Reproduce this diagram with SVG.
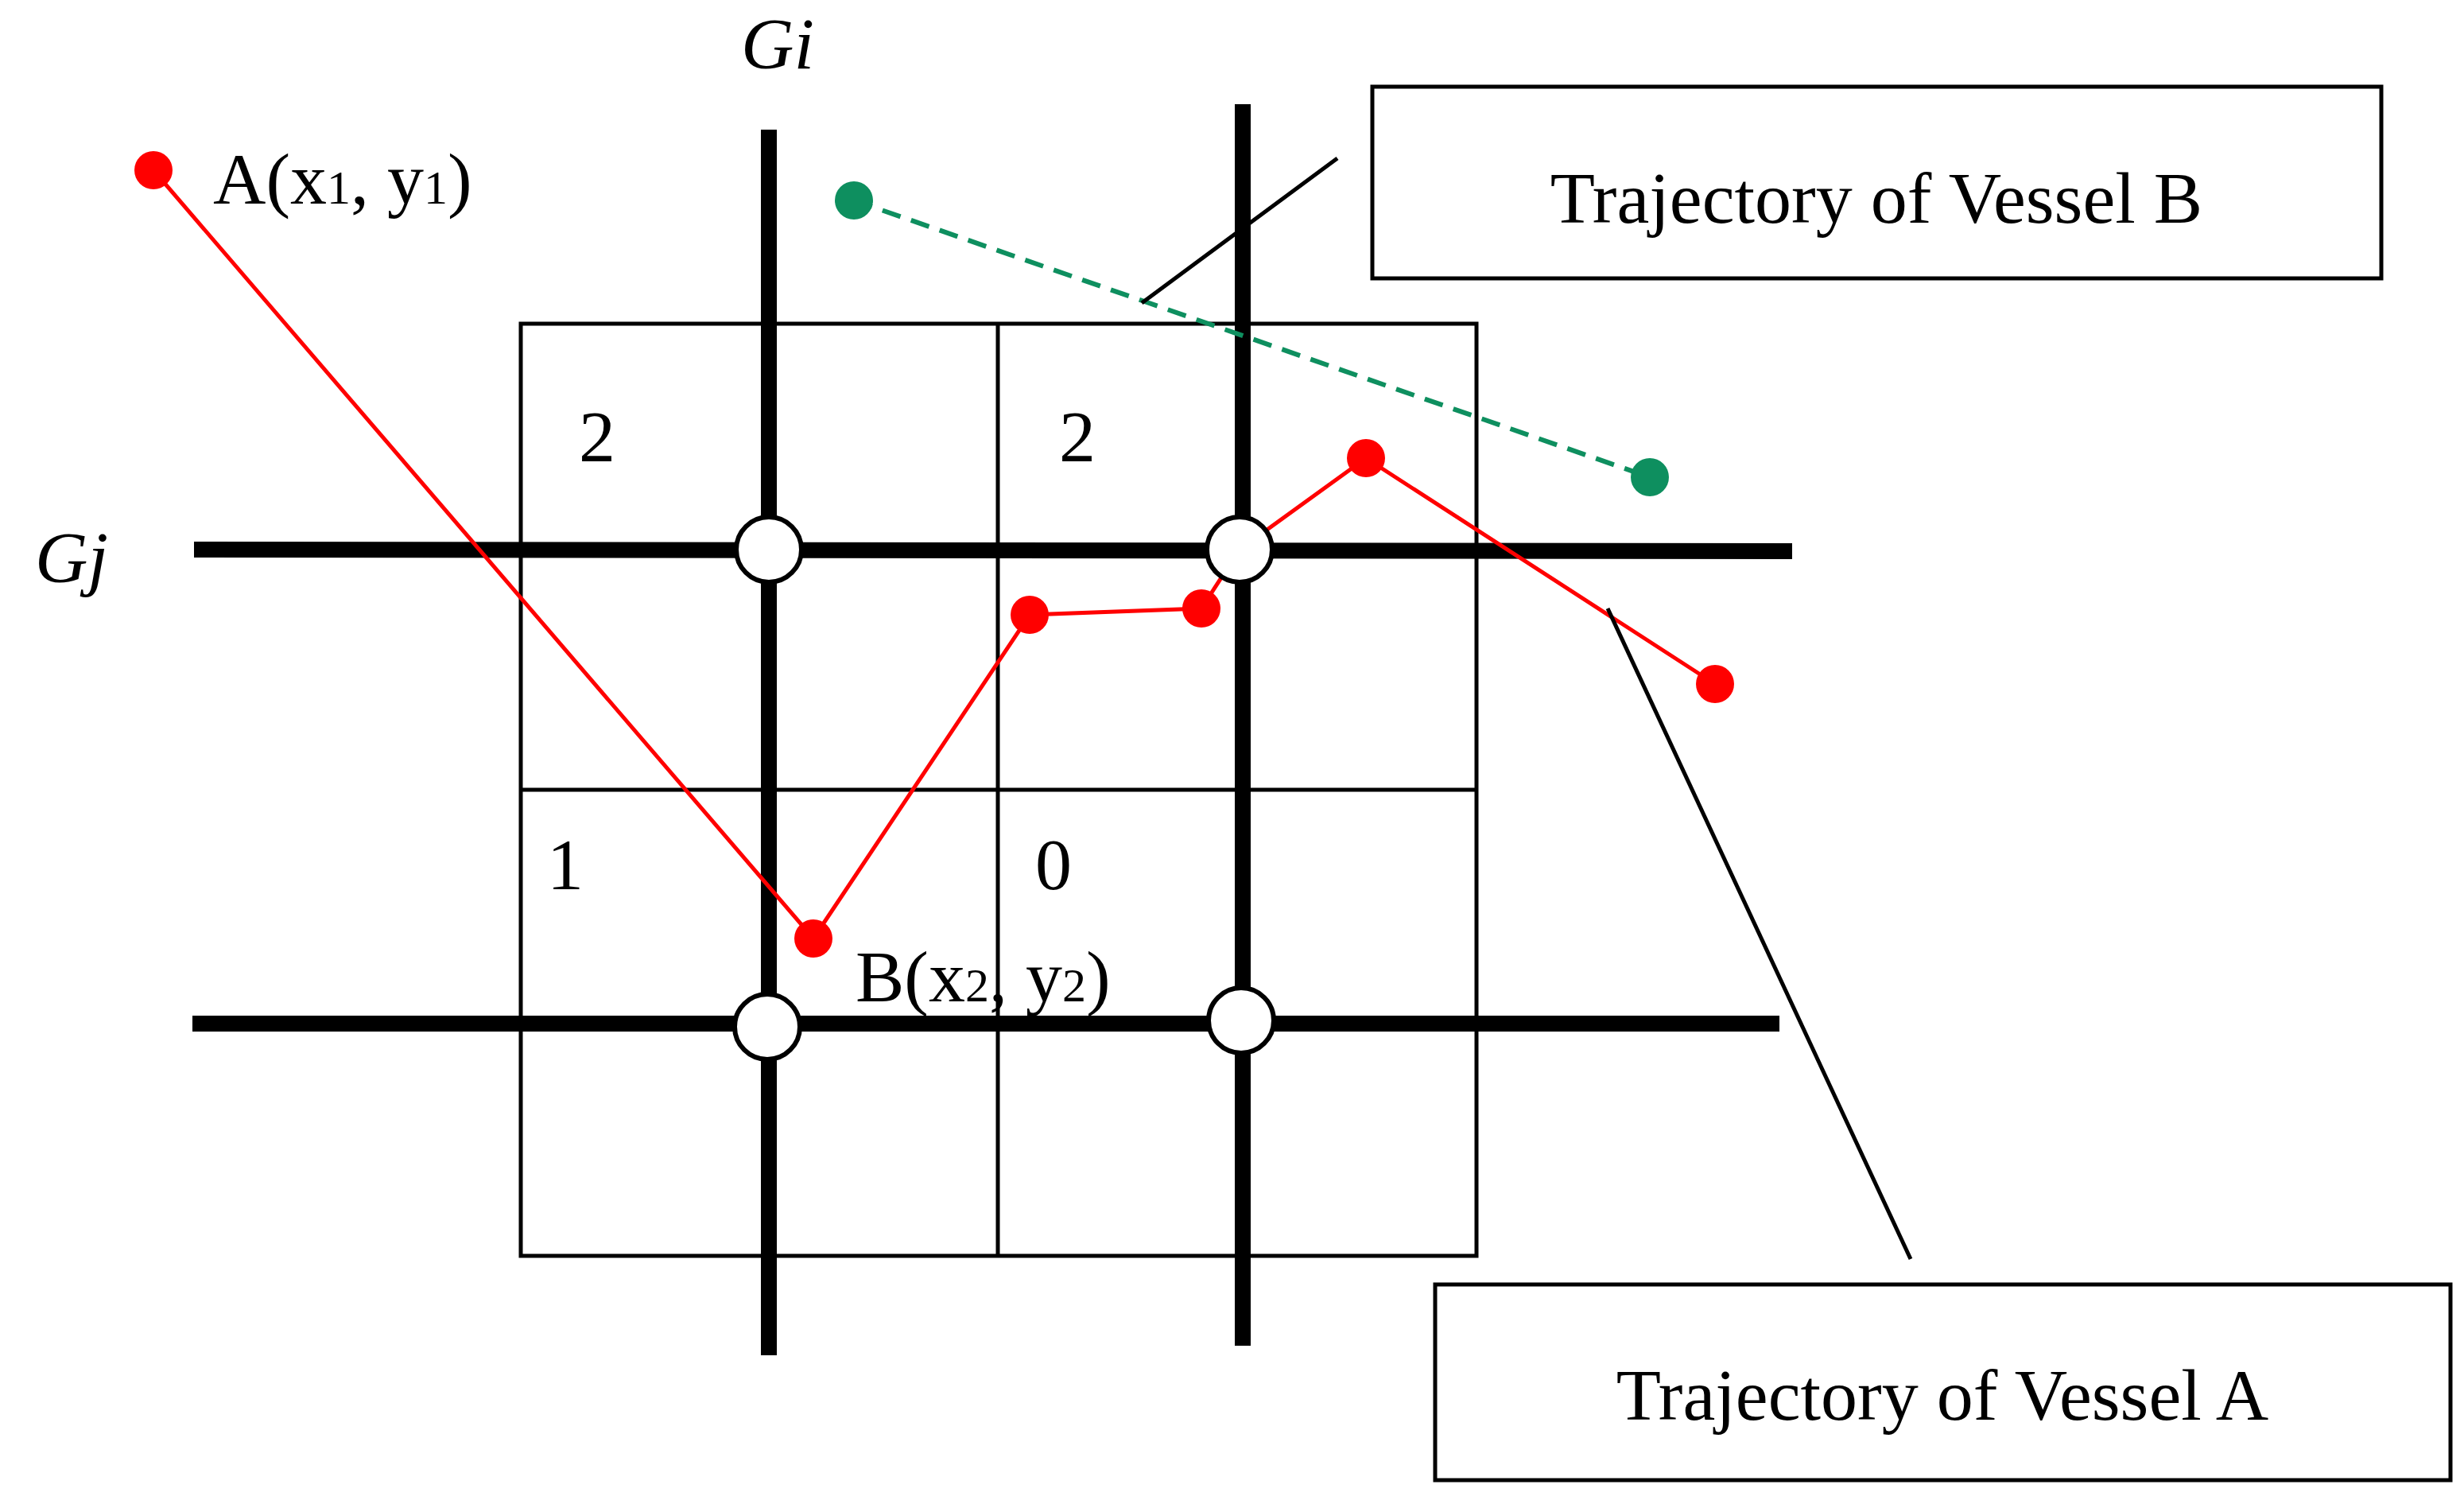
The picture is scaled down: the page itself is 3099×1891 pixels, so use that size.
<svg xmlns="http://www.w3.org/2000/svg" width="3099" height="1891" viewBox="0 0 3099 1891">
<style>
.t{font-family:"Liberation Serif",serif;font-size:92px;fill:#000}
.thin{stroke:#000;stroke-width:5;fill:none}
.thick{stroke:#000;stroke-width:20;fill:none}
.red{stroke:#f00;stroke-width:5;fill:none}
.rd{fill:#f00}
.node{fill:#fff;stroke:#000;stroke-width:6}
</style>
<rect width="3099" height="1891" fill="#fff"/>
<g id="grid">
<rect x="655" y="407" width="1202" height="1172" class="thin"/>
<line x1="1255" y1="407" x2="1255" y2="1579" class="thin"/>
<line x1="655" y1="993" x2="1857" y2="993" class="thin"/>
<text class="t" x="728" y="580">2</text>
<text class="t" x="1332" y="580">2</text>
<text class="t" x="688" y="1118">1</text>
<text class="t" x="1302" y="1118">0</text>
</g>
<g id="connectors">
<line x1="967" y1="163" x2="967" y2="1704" class="thick"/>
<line x1="1563" y1="131" x2="1563" y2="1692" class="thick"/>
<line x1="244" y1="691" x2="2254" y2="693" class="thick"/>
<line x1="242" y1="1287" x2="2238" y2="1287" class="thick"/>
<polyline points="193,214 1023,1180 1295,773 1511,765 1559,691 1718,576 2157,860" class="red"/>
<line x1="1074" y1="252" x2="2075" y2="600" stroke="#0e8f5f" stroke-width="6" stroke-dasharray="24,14"/>
<line x1="1682" y1="199" x2="1436" y2="381" class="thin"/>
<line x1="2022" y1="765" x2="2403" y2="1583" class="thin"/>
</g>
<g id="points">
<circle cx="193" cy="214" r="24" class="rd"/>
<circle cx="1023" cy="1180" r="24" class="rd"/>
<circle cx="1295" cy="773" r="24" class="rd"/>
<circle cx="1511" cy="765" r="24" class="rd"/>
<circle cx="1718" cy="576" r="24" class="rd"/>
<circle cx="2157" cy="860" r="24" class="rd"/>
<circle cx="1074" cy="252" r="24" fill="#0e8f5f"/>
<circle cx="2075" cy="600" r="24" fill="#0e8f5f"/>
</g>
<g id="nodes">
<circle cx="967" cy="691" r="41" class="node"/>
<circle cx="1559" cy="691" r="41" class="node"/>
<circle cx="965" cy="1291" r="41" class="node"/>
<circle cx="1561" cy="1283" r="41" class="node"/>
</g>
<g id="labels">
<text class="t" x="932" y="86" font-style="italic">Gi</text>
<text class="t" x="44" y="732" font-style="italic">Gj</text>
<text class="t" x="268" y="256">A(x<tspan font-size="60">1</tspan>, y<tspan font-size="60">1</tspan>)</text>
<text class="t" x="1076" y="1259">B(x<tspan font-size="60">2</tspan>, y<tspan font-size="60">2</tspan>)</text>
</g>
<g id="boxB">
<rect x="1726" y="109" width="1269" height="241" class="thin"/>
<text class="t" x="2360" y="280" text-anchor="middle">Trajectory of Vessel B</text>
</g>
<g id="boxA">
<rect x="1805" y="1615" width="1277" height="246" class="thin"/>
<text class="t" x="2443" y="1785" text-anchor="middle">Trajectory of Vessel A</text>
</g>
</svg>
